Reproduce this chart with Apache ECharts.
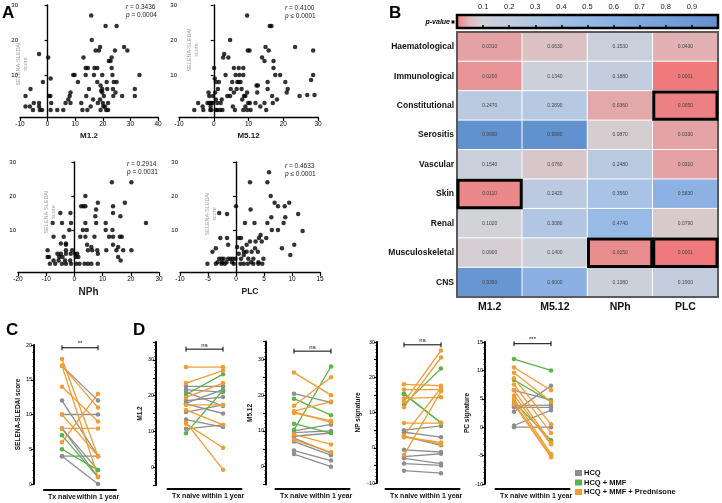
<!DOCTYPE html>
<html><head><meta charset="utf-8">
<script src="https://cdn.jsdelivr.net/npm/echarts@6/dist/echarts.min.js"></script>
<style>html,body{margin:0;padding:0;background:#fff}#c{width:722px;height:503px}</style>
</head><body><div id="c"></div><script>
const FONT = '"Liberation Sans", Arial, Helvetica, sans-serif';

// ---------- Panel A data (signature score vs SELENA-SLEDAI) ----------
const scatterM12 = [[-8,4],[-8,1],[-6.4,1],[-6.2,6],[-5.3,0],[-5,2],[-3.1,2],[-3.1,1],[-2.8,0],[-2,0],[-3.1,16],[-1.7,8],[0.2,15],[0.5,4],[1,4],[1.1,9],[1.3,2],[1.1,0],[3.5,0],[5.7,0],[6.5,2],[7.5,3],[8,4],[8.3,5],[8.3,2],[9.3,10],[9.8,10],[11,8],[12.2,2],[12.6,0],[13,15],[13.8,12],[14.6,12],[13.8,10],[14,4],[14.4,0],[15,6],[15.6,1],[15.8,27],[16,20],[16.5,3],[16.8,10],[17,12],[17.4,17],[18,12],[18,8],[18.2,2],[18.6,17],[19,18],[19,3],[19.2,0],[19.8,6],[19.8,10],[19.8,5],[20,2],[20.4,4],[20.8,1],[21,24],[21.4,8],[21.6,6],[21.9,2],[21.9,0],[22.2,14],[22.8,14],[23.2,15],[23.2,12],[23.5,10],[23.7,6],[23.8,4],[24,8],[24.4,17],[24.6,5],[25,24],[25,8],[27,4],[27.7,18],[28.9,17],[31.6,6],[31.6,4],[33.3,10],[19.2,7],[19.4,5.5],[20.2,1],[21.2,0]];
const scatterM512 = [[-5.6,0],[-4.5,2],[-3.2,1],[-3,0],[-1.8,2],[-1.5,5],[-1.3,4],[-1.3,2],[-1,2],[-0.7,2],[-0.4,2],[-1,0],[-0.7,0],[-0.9,1],[-0.2,4],[0.1,12],[0.3,9],[0.6,8],[0.4,5],[0.6,3],[0.6,0],[1,0],[1.8,0],[2.5,0],[1.2,6],[1.5,8],[1,2],[2,2],[2.3,3],[2.7,15],[3,16],[3.4,10],[3.9,4],[4.2,15],[4.7,20],[4.7,4],[4.9,6],[5.3,8],[5.5,1],[5.8,12],[5.8,5],[6.1,0],[6.3,10],[6.6,6],[6.8,8],[7.2,12],[7.2,8],[7.4,10],[7.7,8],[8,6],[8.2,3],[8.5,12],[8.5,10],[8.5,0],[8.7,4],[9.1,4],[9.1,1],[9.6,27],[9.6,5],[9.8,17],[10.3,17],[9.9,2],[10.4,2],[9.6,0],[10.6,0],[12,2],[12.3,7],[12.7,7],[12.5,5],[13.4,1],[13.9,15],[14.6,14],[14.9,18],[14.6,2],[15.1,0],[15.5,8],[15.5,6],[15.8,17],[16.1,24],[16.6,24],[16.8,4],[17,2],[17.2,14],[17.2,12],[17.7,10],[18.2,3],[19.1,10],[20.6,8],[21,5],[21.3,6],[23.4,18],[24.7,4],[28.6,17],[28.6,10],[28,8.6],[26.9,4.3],[29,4.3]];
const scatterNPh = [[13.3,24],[20.2,24],[3.9,20],[2.4,17],[3.2,17],[3.9,17],[8.3,18],[7.7,16],[13.7,17],[17.9,18],[-5,15],[-1.4,15],[7.4,14],[13.7,15],[16.3,14],[-7.7,12],[-4.4,12],[-1.2,12],[3.9,12],[7.7,12],[11.1,12],[25.4,12],[-7.4,8],[-3.8,8],[-1.8,10],[3,10],[4.4,10],[11.1,10],[13.5,10],[-4.8,6],[-3,6],[2.1,8],[3.9,8],[7.1,8],[12.3,8],[13.7,8],[16.1,8],[16.8,8],[-3,5.6],[4.5,5.6],[6,5],[13.7,5.6],[15.5,5],[-9.5,4],[-3,4],[-0.8,4],[4.8,4],[6.3,4],[8.1,4],[11.3,4],[14.9,4],[17.3,4],[20.2,4],[-6,3],[-4.8,3],[-3,3],[-1.3,3],[0.2,3],[1,3],[8.3,3],[-9.5,2],[-9,2],[-5.4,2],[-4.2,2],[0.5,2],[1.4,2],[15.5,2],[-7.4,1],[-5.6,1],[-3.3,1],[-1.5,1],[16.4,1],[-8.7,0],[-6.8,0],[-4.4,0],[-3,0],[-1.2,0],[0.6,0],[1.8,0],[3.6,0],[4.8,0],[6,0],[8.3,0]];
const scatterPLC = [[5.9,27],[2.5,24],[5.6,24],[6.2,20],[6.9,18],[7.5,17],[8.7,17],[9.5,18],[11.1,14.7],[2.6,16],[0,17],[-1.6,14.7],[6.3,13.7],[8.8,13.7],[-3,15],[1.6,12],[3.3,12],[5.6,12],[8.5,12],[11.9,9.7],[6.4,10],[7.5,10],[-2.8,7.6],[-1.6,7.6],[0.5,7.6],[0.9,7.6],[4.4,8.5],[4.1,7.6],[5.4,7.6],[2.5,6.6],[1.9,5.6],[3.5,6.6],[4.6,6.6],[-3.6,4.6],[-1.4,5.6],[1.1,4.6],[1.4,3.6],[1.9,3.6],[2.8,3.6],[3.4,4.6],[3.9,3.6],[8.2,4.6],[10.4,5.6],[9.7,2.6],[-4.2,3.6],[-3,1.5],[-2.6,1.5],[-2.2,1.5],[-1.4,1.5],[-1,1.5],[-0.6,1.5],[-0.1,1.5],[-3.3,0.5],[-2.5,0.5],[-1.7,0.5],[-0.7,0.5],[0.9,1.5],[1.4,2.6],[2.2,1.5],[2.7,0.5],[3.1,1.5],[4,0.5],[4.9,1.5],[-5.1,0],[-3.6,0],[-2.6,0],[-2,0],[-0.4,0],[0.8,0],[1.4,0],[2.1,0],[3.1,0],[4,0],[4.7,0],[0.5,3],[0.2,5]];
const corrR = ['0.3436', '0.4100', '0.2914', '0.4633'];
const corrP = ['= 0.0004', '≤ 0.0001', '= 0.0031', '≤ 0.0001'];

// ---------- Panel B data (p-values) ----------
const heatRows = ['Haematological','Immunological','Constitutional','Serositis','Vascular','Skin','Renal','Musculoskeletal','CNS'];
const heatCols = ['M1.2','M5.12','NPh','PLC'];
const pHaematological = [0.0310, 0.0630, 0.1530, 0.0430];
const pImmunological = [0.0200, 0.1340, 0.1880, 0.0001];
const pConstitutional = [0.2470, 0.2690, 0.0360, 0.0050];
const pSerositis = [0.9990, 0.9980, 0.0870, 0.0330];
const pVascular = [0.1540, 0.0760, 0.2480, 0.0310];
const pSkin = [0.0110, 0.2420, 0.3560, 0.5830];
const pRenal = [0.1020, 0.3080, 0.4740, 0.0790];
const pMusculoskeletal = [0.0900, 0.1400, 0.0150, 0.0001];
const pCNS = [0.9390, 0.6000, 0.1380, 0.1900];
const highlightedCells = [['PLC','Constitutional'],['M1.2','Skin'],['NPh','Musculoskeletal'],['PLC','Musculoskeletal']];
const colorbarTicks = [0.1,0.2,0.3,0.4,0.5,0.6,0.7,0.8,0.9];

// ---------- Panels C / D data: [Tx naive, within 1 year] ----------
const pairCategories = ['Tx naive', 'within 1 year'];
const groupNames = ['HCQ', 'HCQ + MMF', 'HCQ + MMF + Prednisone'];
const cHCQ = [[17,12],[12,4],[10,10],[8,2],[8,1],[4,4],[4,0]];
const cMMF = [[7,1],[5,2]];
const cPred = [[18,4],[17,1],[17,11],[14,9],[10,4],[8,8],[6,13]];
const d1HCQ = [[22.6,22.6],[21.7,21],[21,17.1],[18.6,19.6],[17.9,21.7],[17.7,15],[15.4,17.4],[13.3,11.2],[10.7,11.8]];
const d1MMF = [[20.3,26],[9.5,21.5]];
const d1Pred = [[28,28],[23.5,27],[19.5,23.5],[17.4,17.4],[16,11.8],[12.1,5.4],[12.5,-0.7]];
const d2HCQ = [[20.4,18],[10,11.8],[9.5,10],[8.5,9.4],[8,3.8],[7,3.2],[4.5,1.7],[3.5,0]];
const d2MMF = [[19,14.4],[12,9.4],[10.3,28]];
const d2Pred = [[26.3,20],[17,25],[15.5,18.2],[15,12.8],[15.3,12.4],[9,6.2],[7.5,4]];
const d3HCQ = [[5,6.2],[4.4,3],[3.2,0.7],[-0.6,-1.2],[-2.5,-1.7],[-3,-4.5],[-4.5,-5],[-6.5,-7.2]];
const d3MMF = [[15.4,7],[15.2,7.1],[12.3,22.5]];
const d3Pred = [[18,17.6],[16.5,16.5],[14,14.3],[13,27.6],[11.5,25.6],[7,7],[3.5,17],[3,1.5],[-2,16],[3.3,1]];
const d4HCQ = [[6.5,4.8],[3.8,3.9],[3.5,3.5],[2.7,7.3],[0.3,3],[0,0]];
const d4MMF = [[12,10],[8.3,4.5],[4.5,-2.3]];
const d4Pred = [[10.5,6.5],[9.6,4.5],[8.6,0.5],[7.5,-1],[6.5,-2.7],[5.6,-3],[5,-4.7],[4.3,-5],[4,-5.3]];
const bracketValues = [19.6, 33, 32.3, 29.2, 14.7];
const bracketLabels = ['**', 'ns', 'ns', 'ns', '***'];

// ---------- styles ----------
const groupColors = ['#8e8e8e', '#5cb346', '#f39c34'];
const heatColors = ['#ef7a7c','#dfbabc','#d2d3d7','#c9cfdb','#c3cddd','#b9cae0','#b1c7e3','#a9c3e5','#a2c0e6','#9bbce6','#95b8e5','#8fb5e4','#8ab1e2','#84ade0','#7fa9de','#7aa5dc','#75a1da','#709dd7','#6b99d5','#6695d2','#6191cf'];

const grids = [], xAxes = [], yAxes = [], series = [];

// Panel A scatter layouts
const scatterCfg = [
  {data: scatterM12, grid:{left:20, top:5, width:138, height:112}, xmin:-10, xmax:40, xint:10, ymin:-2, name:'M1.2', nameSize:8, nameGap:15, yName:[22,64], r:[126,7]},
  {data: scatterM512, grid:{left:179, top:5, width:139, height:112}, xmin:-10, xmax:30, xint:10, ymin:-2, name:'M5.12', nameSize:8, nameGap:15, yName:[193,50], r:[285,8]},
  {data: scatterNPh, grid:{left:18, top:162, width:141, height:110}, xmin:-20, xmax:30, xint:10, ymin:-2.4, name:'NPh', nameSize:10, nameGap:15, yName:[50,212], r:[127,164]},
  {data: scatterPLC, grid:{left:180, top:162, width:140, height:110}, xmin:-10, xmax:15, xint:5, ymin:-2.4, name:'PLC', nameSize:8.5, nameGap:15, yName:[211,214], r:[285,166]}
];
scatterCfg.forEach((c, i) => {
  grids.push(c.grid);
  xAxes.push({gridIndex:i, type:'value', min:c.xmin, max:c.xmax, interval:c.xint,
    axisLine:{onZero:false, lineStyle:{color:'#000', width:1.4}},
    axisTick:{length:4, lineStyle:{color:'#000', width:1.2}},
    axisLabel:{fontSize:6.5, margin:4, color:'#000', fontFamily:FONT, showMinLabel:true, showMaxLabel:true},
    splitLine:{show:false},
    name:c.name, nameLocation:'middle', nameGap:c.nameGap,
    nameTextStyle:{fontSize:c.nameSize, fontWeight:'bold', color:'#222', fontFamily:FONT}});
  yAxes.push({gridIndex:i, type:'value', min:c.ymin, max:30,
    axisLine:{onZero:true, lineStyle:{color:'#000', width:1.4}},
    axisTick:{customValues:[10,20,30], length:3, lineStyle:{color:'#000', width:1.2}},
    axisLabel:{customValues:[10,20,30], fontSize:6, margin:2, color:'#000', fontFamily:FONT},
    splitLine:{show:false}});
  series.push({type:'scatter', xAxisIndex:i, yAxisIndex:i, data:c.data, symbolSize:4.5,
    itemStyle:{color:'#000'}, silent:true});
});

// Panel B heatmap
grids.push({left:457, top:32, width:261, height:265});          // grid 4
xAxes.push({gridIndex:4, type:'category', data:heatCols, position:'bottom',
  axisLine:{show:false}, axisTick:{show:false}, splitLine:{show:false},
  axisLabel:{fontSize:10.5, fontWeight:'bold', color:'#111', margin:5, fontFamily:FONT}});
yAxes.push({gridIndex:4, type:'category', data:heatRows, inverse:true,
  axisLine:{show:false}, axisTick:{show:false}, splitLine:{show:false},
  axisLabel:{fontSize:8.5, fontWeight:'bold', color:'#111', margin:3, fontFamily:FONT}});
const heatValues = [pHaematological, pImmunological, pConstitutional, pSerositis, pVascular, pSkin, pRenal, pMusculoskeletal, pCNS];
const heatData = [];
heatValues.forEach((row, r) => row.forEach((v, c) => heatData.push([c, r, v])));
const heatSeriesIndex = series.length;
series.push({type:'heatmap', xAxisIndex:4, yAxisIndex:4, data:heatData,
  itemStyle:{borderColor:'#fff', borderWidth:1},
  label:{show:true, fontSize:5, color:'#444', fontFamily:FONT, formatter:p => p.value[2].toFixed(4)},
  silent:true});
series.push({type:'custom', xAxisIndex:4, yAxisIndex:4, data:[[0,0]], silent:true, z:5,
  renderItem:(params) => ({type:'rect', shape:{x:params.coordSys.x, y:params.coordSys.y, width:params.coordSys.width, height:params.coordSys.height},
    style:{fill:'none', stroke:'#5a5a5a', lineWidth:2}})});
series.push({type:'custom', xAxisIndex:4, yAxisIndex:4, silent:true, z:6,
  data: highlightedCells.map(h => [heatCols.indexOf(h[0]), heatRows.indexOf(h[1])]),
  renderItem:(params, api) => {
    const p = api.coord([api.value(0), api.value(1)]);
    const s = api.size([1, 1]);
    return {type:'rect', shape:{x:p[0]-s[0]/2+1, y:p[1]-s[1]/2+1, width:s[0]-2, height:s[1]-2},
      style:{fill:'none', stroke:'#000', lineWidth:3}};
  }});

// colorbar axis grid
grids.push({left:457, top:15, width:261, height:13});           // grid 5
xAxes.push({gridIndex:5, type:'value', min:0, max:1, interval:0.1, position:'top',
  axisLine:{show:false}, axisTick:{show:false}, splitLine:{show:false},
  axisLabel:{fontSize:7.5, color:'#222', margin:4, fontFamily:FONT,
    formatter:v => colorbarTicks.some(t => Math.abs(t - v) < 1e-6) ? v.toFixed(1) : ''}});
xAxes.push({gridIndex:5, type:'value', min:0, max:1, interval:0.1, position:'bottom',
  axisLine:{show:false}, splitLine:{show:false}, axisLabel:{show:false},
  axisTick:{inside:true, length:3, lineStyle:{color:'#000', width:1.5}}, z:10});
yAxes.push({gridIndex:5, type:'value', show:false, min:0, max:1});

// Panels C / D paired plots
const pairCfg = [
  {groups:[cHCQ,cMMF,cPred], grid:{left:44, top:345, width:72, height:139}, min:0, max:20, every:5, yoff:10, xoff:6, name:'SELENA-SLEDAI score', nameGap:12},
  {groups:[d1HCQ,d1MMF,d1Pred], grid:{left:167.5, top:342, width:74, height:143}, min:-5, max:35, every:10, yoff:11.5, xoff:4, name:'M1.2', nameGap:12},
  {groups:[d2HCQ,d2MMF,d2Pred], grid:{left:275.5, top:341.5, width:74, height:143}, min:-5, max:35, every:10, yoff:9.5, xoff:4.5, name:'M5.12', nameGap:12},
  {groups:[d3HCQ,d3MMF,d3Pred], grid:{left:385.5, top:342, width:74, height:141}, min:-10, max:30, every:10, yoff:8.5, xoff:6, name:'NP signature', nameGap:15},
  {groups:[d4HCQ,d4MMF,d4Pred], grid:{left:495.5, top:342, width:74, height:142}, min:-10, max:15, every:5, yoff:10.5, xoff:5, name:'PC signature', nameGap:12}
];
const pairGridStart = grids.length;
pairCfg.forEach((c, k) => {
  const gi = grids.length;
  grids.push(c.grid);
  const xi = xAxes.length, yi = yAxes.length;
  xAxes.push({gridIndex:gi, type:'category', data:pairCategories, boundaryGap:true, offset:c.xoff, position:'bottom',
    axisLine:{onZero:false, lineStyle:{color:'#000', width:2}}, axisTick:{show:false}, splitLine:{show:false},
    axisLabel:{fontSize:7, fontWeight:'bold', color:'#111', margin:4, interval:0, fontFamily:FONT}});
  yAxes.push({gridIndex:gi, type:'value', min:c.min, max:c.max, interval:5, offset:c.yoff, position:'left',
    axisLine:{show:true, onZero:false, lineStyle:{color:'#000', width:2}},
    axisTick:{show:true, length:3, lineStyle:{color:'#000', width:1.2}},
    minorTick:{show:true, splitNumber:5, length:1.6, lineStyle:{color:'#000', width:0.8}},
    axisLabel:{fontSize:5.5, margin:2, color:'#000', fontFamily:FONT, showMinLabel:true, showMaxLabel:true,
      formatter:v => (Math.abs(v % c.every) < 1e-9 ? String(v) : '')},
    splitLine:{show:false},
    name:c.name, nameLocation:'middle', nameRotate:90, nameGap:c.nameGap,
    nameTextStyle:{fontSize:6.5, fontWeight:'bold', color:'#111', fontFamily:FONT}});
  c.groups.forEach((pairs, g) => {
    pairs.forEach(pv => {
      series.push({type:'line', name:groupNames[g], xAxisIndex:xi, yAxisIndex:yi, data:pv,
        symbol:'circle', symbolSize:4.5, showSymbol:true,
        lineStyle:{color:groupColors[g], width:1.3}, itemStyle:{color:groupColors[g]},
        silent:true, emphasis:{disabled:true}});
    });
  });
});

// static graphics
const gradStops = heatColors.map((col, i) => ({offset:i/(heatColors.length-1), color:col}));
const txt = (x, y, text, font, extra) => ({type:'text', x, y, style:Object.assign({text, font, fill:'#000'}, extra || {})});
const staticGraphics = [
  txt(2, 5, 'A', 'bold 17px ' + FONT),
  txt(389, 5, 'B', 'bold 17px ' + FONT),
  txt(6, 322, 'C', 'bold 17px ' + FONT),
  txt(133, 322, 'D', 'bold 17px ' + FONT),
  {type:'rect', x:457, y:15, shape:{width:261, height:13},
    style:{fill:{type:'linear', x:0, y:0, x2:1, y2:0, colorStops:gradStops}, stroke:'#000', lineWidth:2.5}, z:1},
  txt(450, 22, 'p-value', 'italic bold 7px ' + FONT, {align:'right', verticalAlign:'middle'}),
  {type:'rect', x:451.5, y:20.5, shape:{width:3, height:3}, style:{fill:'#000'}}
];
scatterCfg.forEach((c, i) => {
  staticGraphics.push({type:'text', x:c.yName[0], y:c.yName[1], rotation:Math.PI/2,
    style:{text:'SELENA-SLEDAI\nscore', font:'5.5px ' + FONT, fill:'#a0a0a0', align:'center', verticalAlign:'middle', lineHeight:7}});
  staticGraphics.push({type:'text', x:c.r[0], y:c.r[1], style:{text:'{i|r} = ' + corrR[i], font:'6.5px ' + FONT, fill:'#222', verticalAlign:'middle',
    rich:{i:{fontStyle:'italic', fontSize:6.5, fontFamily:FONT}}}});
  staticGraphics.push({type:'text', x:c.r[0], y:c.r[1]+8, style:{text:'{i|p} ' + corrP[i], font:'6.5px ' + FONT, fill:'#222', verticalAlign:'middle',
    rich:{i:{fontStyle:'italic', fontSize:6.5, fontFamily:FONT}}}});
});

const option = {
  animation:false,
  textStyle:{fontFamily:FONT},
  grid:grids, xAxis:xAxes, yAxis:yAxes, series,
  visualMap:{show:false, type:'continuous', min:0, max:1, seriesIndex:heatSeriesIndex, inRange:{color:heatColors}},
  legend:{data:groupNames, orient:'vertical', left:575, top:469, icon:'rect', itemWidth:7, itemHeight:6, itemGap:1.5,
    padding:0, selectedMode:false, textStyle:{fontSize:7.5, fontWeight:'bold', color:'#111', fontFamily:FONT, padding:[0,0,0,-3]}},
  graphic:staticGraphics
};
const chart = echarts.init(document.getElementById('c'), null, {renderer:'canvas'});
chart.setOption(option);

// significance brackets placed through the axes of each paired plot
const brackets = [];
pairCfg.forEach((c, k) => {
  const gi = pairGridStart + k;
  const a = chart.convertToPixel({gridIndex:gi}, [0, bracketValues[k]]);
  const b = chart.convertToPixel({gridIndex:gi}, [1, bracketValues[k]]);
  const st = {stroke:'#000', lineWidth:1};
  brackets.push({type:'line', shape:{x1:a[0], y1:a[1], x2:b[0], y2:b[1]}, style:st});
  brackets.push({type:'line', shape:{x1:a[0], y1:a[1]-2.5, x2:a[0], y2:a[1]+2.5}, style:st});
  brackets.push({type:'line', shape:{x1:b[0], y1:b[1]-2.5, x2:b[0], y2:b[1]+2.5}, style:st});
  brackets.push({type:'text', x:(a[0]+b[0])/2, y:a[1]-1, style:{text:bracketLabels[k], font:'6px ' + FONT, fill:'#000', align:'center', verticalAlign:'bottom'}});
});
chart.setOption({graphic: staticGraphics.concat(brackets)});
</script></body></html>
